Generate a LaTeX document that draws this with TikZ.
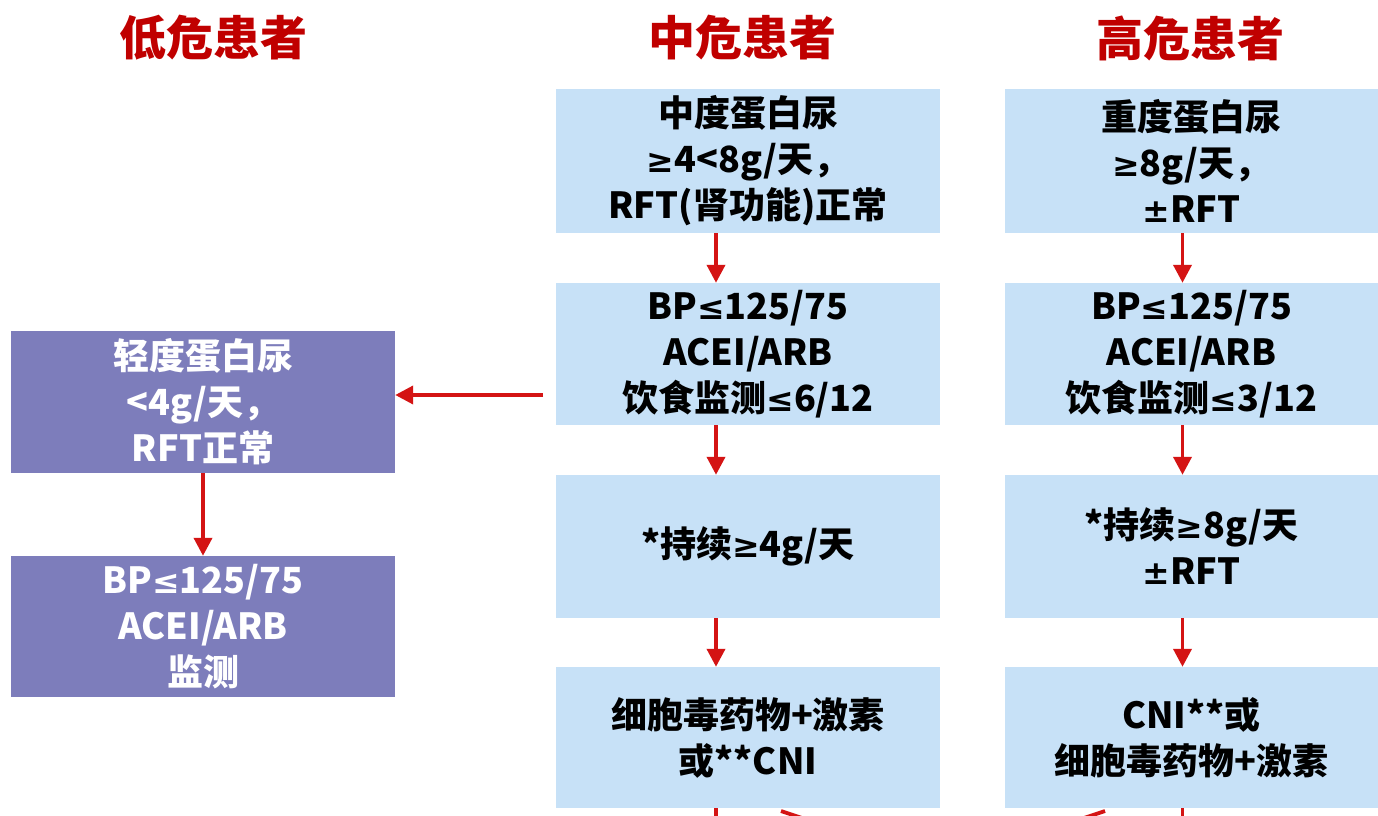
\documentclass[tikz,border=0pt]{standalone}
\usepackage{fontspec}
\newfontfamily\cjk{Noto Sans CJK SC}
\newfontfamily\symf{DejaVu Sans}
\newcommand{\qle}{{\symf\fontsize{33}{46}\selectfont ≤}}
\newcommand{\qge}{{\symf\fontsize{33}{46}\selectfont ≥}}
\newcommand{\qpm}{{\symf\fontsize{33}{46}\selectfont ±}}
\usetikzlibrary{arrows.meta}
\definecolor{titlered}{HTML}{C00000}
\definecolor{boxblue}{HTML}{C7E1F7}
\definecolor{boxpurple}{HTML}{7D7DBB}
\definecolor{arrred}{HTML}{D41414}
\tikzset{
  ttl/.style={font=\cjk\bfseries\fontsize{47}{50}\selectfont, text=titlered, anchor=center},
  bbox/.style={fill=boxblue, draw=none, inner sep=0pt, align=center, text=black,
     font=\cjk\bfseries\fontsize{36}{46}\selectfont},
  pbox/.style={fill=boxpurple, draw=none, inner sep=0pt, align=center, text=white,
     font=\cjk\bfseries\fontsize{36}{46}\selectfont},
  arr/.style={draw=arrred, line width=3.8pt, -{Triangle[width=18pt,length=18pt]}},
  stub/.style={draw=arrred, line width=3.8pt}
}
\begin{document}
\begin{tikzpicture}[x=1pt,y=-1pt]
\useasboundingbox (0,0) rectangle (1378,816);
\clip (0,0) rectangle (1378,816);
\fill[white] (0,0) rectangle (1378,816);
% titles
\node[ttl] (t1) at (213,38) {低危患者};
\node[ttl] (t2) at (742,38) {中危患者};
\node[ttl] (t3) at (1190,38) {高危患者};
% middle column
\node[bbox, minimum width=384pt, minimum height=144pt] (m1) at (748,161) {中度蛋白尿\\\qge4<8g/天，\\RFT(肾功能)正常};
\node[bbox, minimum width=384pt, minimum height=142pt] (m2) at (748,354) {BP\qle125/75\\ACEI/ARB\\饮食监测\qle6/12};
\node[bbox, minimum width=384pt, minimum height=143pt] (m3) at (748,546.5) {*持续\qge4g/天};
\node[bbox, minimum width=384pt, minimum height=141pt] (m4) at (748,737.5) {细胞毒药物+激素\\或**CNI};
% right column
\node[bbox, minimum width=373pt, minimum height=144pt] (r1) at (1191.5,161) {重度蛋白尿\\\qge8g/天，\\\qpm RFT};
\node[bbox, minimum width=373pt, minimum height=142pt] (r2) at (1191.5,354) {BP\qle125/75\\ACEI/ARB\\饮食监测\qle3/12};
\node[bbox, minimum width=373pt, minimum height=143pt] (r3) at (1191.5,546.5) {*持续\qge8g/天\\\qpm RFT};
\node[bbox, minimum width=373pt, minimum height=141pt] (r4) at (1191.5,737.5) {CNI**或\\细胞毒药物+激素};
% left column
\node[pbox, minimum width=384pt, minimum height=142pt] (l1) at (203,402) {轻度蛋白尿\\<4g/天，\\RFT正常};
\node[pbox, minimum width=384pt, minimum height=141pt] (l2) at (203,626.5) {BP\qle125/75\\ACEI/ARB\\监测};
% arrows
\draw[arr] ([xshift=-32pt]m1.south) -- ([xshift=-32pt]m2.north);
\draw[arr] ([xshift=-32pt]m2.south) -- ([xshift=-32pt]m3.north);
\draw[arr] ([xshift=-32pt]m3.south) -- ([xshift=-32pt]m4.north);
\draw[arr] ([xshift=-9pt]r1.south) -- ([xshift=-9pt]r2.north);
\draw[arr] ([xshift=-9pt]r2.south) -- ([xshift=-9pt]r3.north);
\draw[arr] ([xshift=-9pt]r3.south) -- ([xshift=-9pt]r4.north);
\draw[arr] (l1.south) -- (l2.north);
\coordinate (la) at (543,395);
\draw[arr] (la) -- (la -| l1.east);
% cut-off arrows at the bottom
\coordinate (s2) at (781,811);
\coordinate (s3) at (1105,811);
\draw[stub] ([xshift=-32pt]m4.south) -- ++(0,30);
\draw[stub] (s2) -- ++(60,20);
\draw[stub] (s3) -- ++(-60,20);
\draw[stub] ([xshift=-9pt]r4.south) -- ++(0,30);
\end{tikzpicture}
\end{document}
